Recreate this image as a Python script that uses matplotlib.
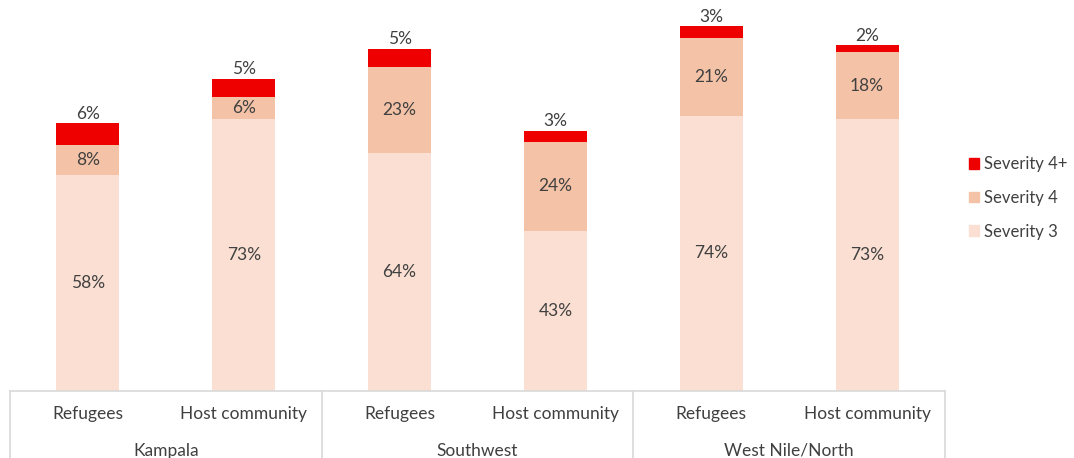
import matplotlib.pyplot as plt
from matplotlib.patches import Patch
from matplotlib.lines import Line2D

regions = ['Kampala', 'Southwest', 'West Nile/North']
groups = ['Refugees', 'Host community']
severity_3 = [58, 73, 64, 43, 74, 73]
severity_4 = [8, 6, 23, 24, 21, 18]
severity_4plus = [6, 5, 5, 3, 3, 2]

c3 = '#FADFD2'
c4 = '#F4C3A7'
c4p = '#EE0000'
txt = '#404040'
grid = '#D9D9D9'

plt.rcParams['font.family'] = ['Lato', 'DejaVu Sans']

fig = plt.figure(figsize=(10.74, 4.58), dpi=100)
ax = fig.add_axes([10 / 1074, 67 / 458, 935 / 1074, 372 / 458])

x = list(range(len(severity_3)))
w = 0.405
bottom4 = severity_3
bottom4p = [a + b for a, b in zip(severity_3, severity_4)]
ax.bar(x, severity_3, w, color=c3)
ax.bar(x, severity_4, w, bottom=bottom4, color=c4)
ax.bar(x, severity_4plus, w, bottom=bottom4p, color=c4p)

fs = 12.5
for i in x:
    ax.text(i, severity_3[i] / 2, f'{severity_3[i]}%', ha='center', va='center',
            color=txt, fontsize=fs)
    ax.text(i, bottom4[i] + severity_4[i] / 2, f'{severity_4[i]}%', ha='center',
            va='center', color=txt, fontsize=fs)
    ax.text(i, bottom4p[i] + severity_4plus[i] + 0.4, f'{severity_4plus[i]}%',
            ha='center', va='bottom', color=txt, fontsize=fs)

ax.set_xlim(-0.5, len(x) - 0.5)
ax.set_ylim(0, 100)
ax.set_xticks([])
ax.set_yticks([])
for s in ['top', 'left', 'right']:
    ax.spines[s].set_visible(False)
ax.spines['bottom'].set_color(grid)
ax.spines['bottom'].set_linewidth(1.2)

# two-level category axis drawn as a box below the bars
tr = ax.get_xaxis_transform()
for k in range(len(regions) + 1):
    ax.add_line(Line2D([2 * k - 0.5, 2 * k - 0.5], [0, -0.3], transform=tr,
                       color=grid, lw=1.2, clip_on=False))
for i in x:
    ax.text(i, -0.062, groups[i % 2], transform=tr, ha='center', va='center',
            color=txt, fontsize=fs)
for k, r in enumerate(regions):
    ax.text(2 * k + 0.5, -0.16, r, transform=tr, ha='center', va='center',
            color=txt, fontsize=fs)

handles = [Patch(color=c4p), Patch(color=c4), Patch(color=c3)]
labels = ['Severity 4+', 'Severity 4', 'Severity 3']
fig.legend(handles, labels, loc='center left', bbox_to_anchor=(962 / 1074, 1 - 198 / 458),
           frameon=False, fontsize=12, labelcolor=txt, handlelength=0.6,
           handleheight=0.6, handletextpad=0.35, labelspacing=1.05,
           borderaxespad=0.0)

fig.savefig('out.png', dpi=100)
